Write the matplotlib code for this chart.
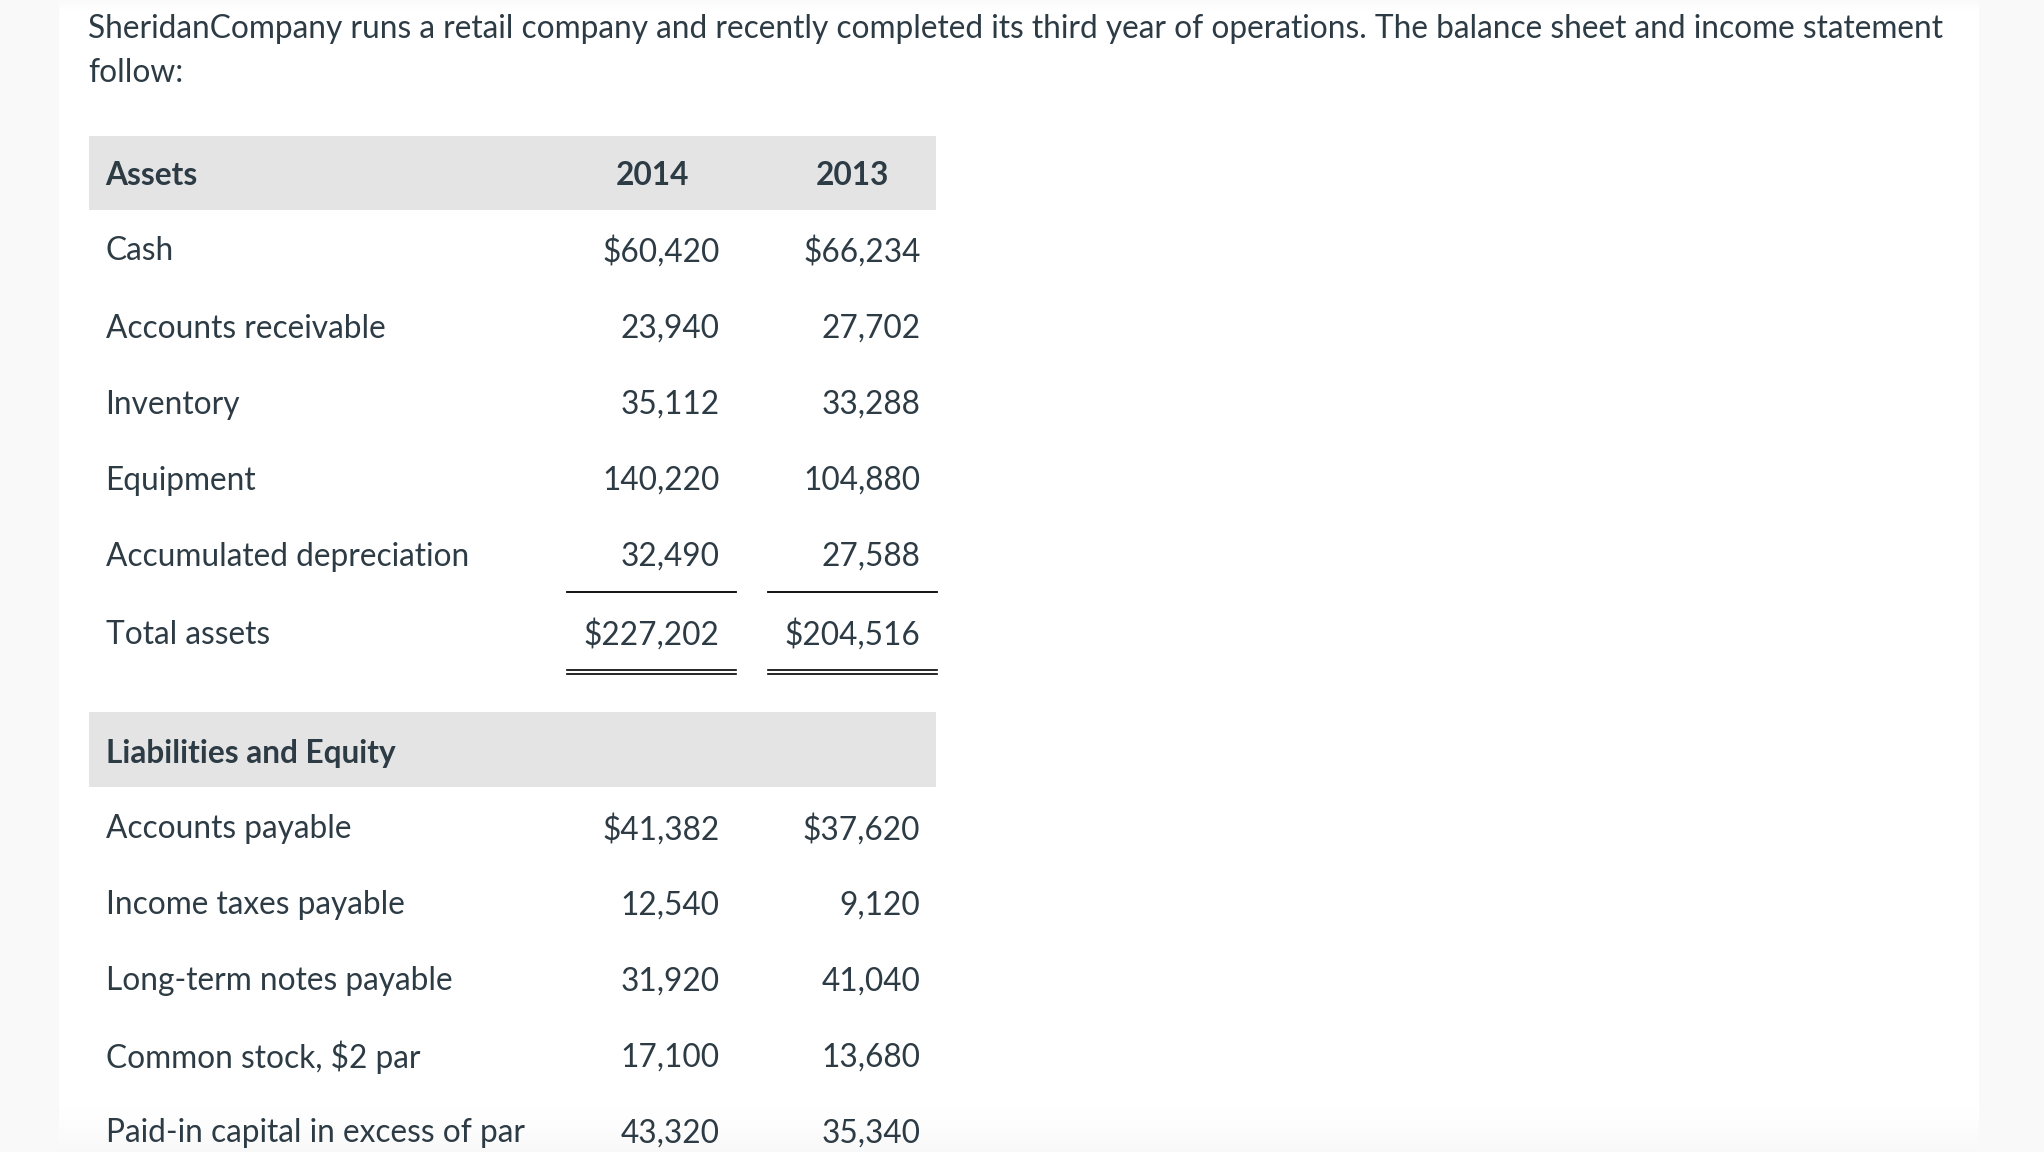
import numpy as np
import matplotlib.pyplot as plt

plt.rcParams['font.family'] = ['Lato', 'DejaVu Sans']

intro = ("SheridanCompany runs a retail company and recently completed its third year of operations. "
         "The balance sheet and income statement")
intro2 = "follow:"

years = ['2014', '2013']

asset_labels = ['Cash', 'Accounts receivable', 'Inventory', 'Equipment',
                'Accumulated depreciation', 'Total assets']
assets_2014 = ['$60,420', '23,940', '35,112', '140,220', '32,490', '$227,202']
assets_2013 = ['$66,234', '27,702', '33,288', '104,880', '27,588', '$204,516']

liab_labels = ['Accounts payable', 'Income taxes payable', 'Long-term notes payable',
               'Common stock, $2 par', 'Paid-in capital in excess of par']
liab_2014 = ['$41,382', '12,540', '31,920', '17,100', '43,320']
liab_2013 = ['$37,620', '9,120', '41,040', '13,680', '35,340']

W, H = 2044, 1152
txt = '#2d3b45'
band = '#e4e4e4'
fs = 22.8
dy = 2.5  # nudge text down a little

fig = plt.figure(figsize=(W / 100, H / 100), dpi=100)
ax = fig.add_axes([0, 0, 1, 1])
ax.set_xlim(0, W)
ax.set_ylim(H, 0)
ax.axis('off')

# page background: side strips and faint bottom shade
ax.add_patch(plt.Rectangle((0, 0), 59, H, color='#f9f9f9', lw=0))
ax.add_patch(plt.Rectangle((1979, 0), W - 1979, H, color='#f9f9f9', lw=0))
shade = np.linspace(0, 1, 60)[:, None] ** 2
ax.imshow(shade, extent=(0, W, H, H - 60), cmap='Greys', vmin=0, vmax=18,
          aspect='auto', alpha=1, zorder=0.5)
top = np.linspace(1, 0, 12)[:, None]
ax.imshow(top, extent=(0, W, 12, 0), cmap='Greys', vmin=0, vmax=25,
          aspect='auto', zorder=0.5)

ax.text(88, 27 + dy, intro, fontsize=fs, color=txt, va='center', ha='left')
ax.text(88, 71 + dy, intro2, fontsize=fs, color=txt, va='center', ha='left')

x0, x1 = 88.6, 936
col_c = [652, 852.6]
col_r = [719.6, 920.4]
ul = [(567, 736), (768, 937)]

# assets header
ax.add_patch(plt.Rectangle((x0, 135.6), x1 - x0, 74.5, color=band, lw=0))
ax.text(105.6, 173 + dy, 'Assets', fontsize=fs, fontweight='bold', color=txt, va='center')
for c, y in zip(col_c, years):
    ax.text(c, 173 + dy, y, fontsize=fs, fontweight='bold', color=txt,
            va='center', ha='center')

row_y = [249, 326, 402, 478, 554, 632]
for y, lab, a, b in zip(row_y, asset_labels, assets_2014, assets_2013):
    ax.text(105.6, y + dy, lab, fontsize=fs, color=txt, va='center')
    ax.text(col_r[0], y + dy, a, fontsize=fs, color=txt, va='center', ha='right')
    ax.text(col_r[1], y + dy, b, fontsize=fs, color=txt, va='center', ha='right')

for a, b in ul:
    ax.plot([a, b], [592, 592], color='black', lw=1.3)
    ax.plot([a, b], [670, 670], color='black', lw=1.2)
    ax.plot([a, b], [674, 674], color='black', lw=1.2)

# liabilities header
ax.add_patch(plt.Rectangle((x0, 712), x1 - x0, 75, color=band, lw=0))
ax.text(105.6, 751 + dy, 'Liabilities and Equity', fontsize=fs, fontweight='bold',
        color=txt, va='center')

liab_y = [827, 903, 979, 1055, 1131]
for y, lab, a, b in zip(liab_y, liab_labels, liab_2014, liab_2013):
    ax.text(105.6, y + dy, lab, fontsize=fs, color=txt, va='center')
    ax.text(col_r[0], y + dy, a, fontsize=fs, color=txt, va='center', ha='right')
    ax.text(col_r[1], y + dy, b, fontsize=fs, color=txt, va='center', ha='right')

fig.savefig('out.png', dpi=100)
